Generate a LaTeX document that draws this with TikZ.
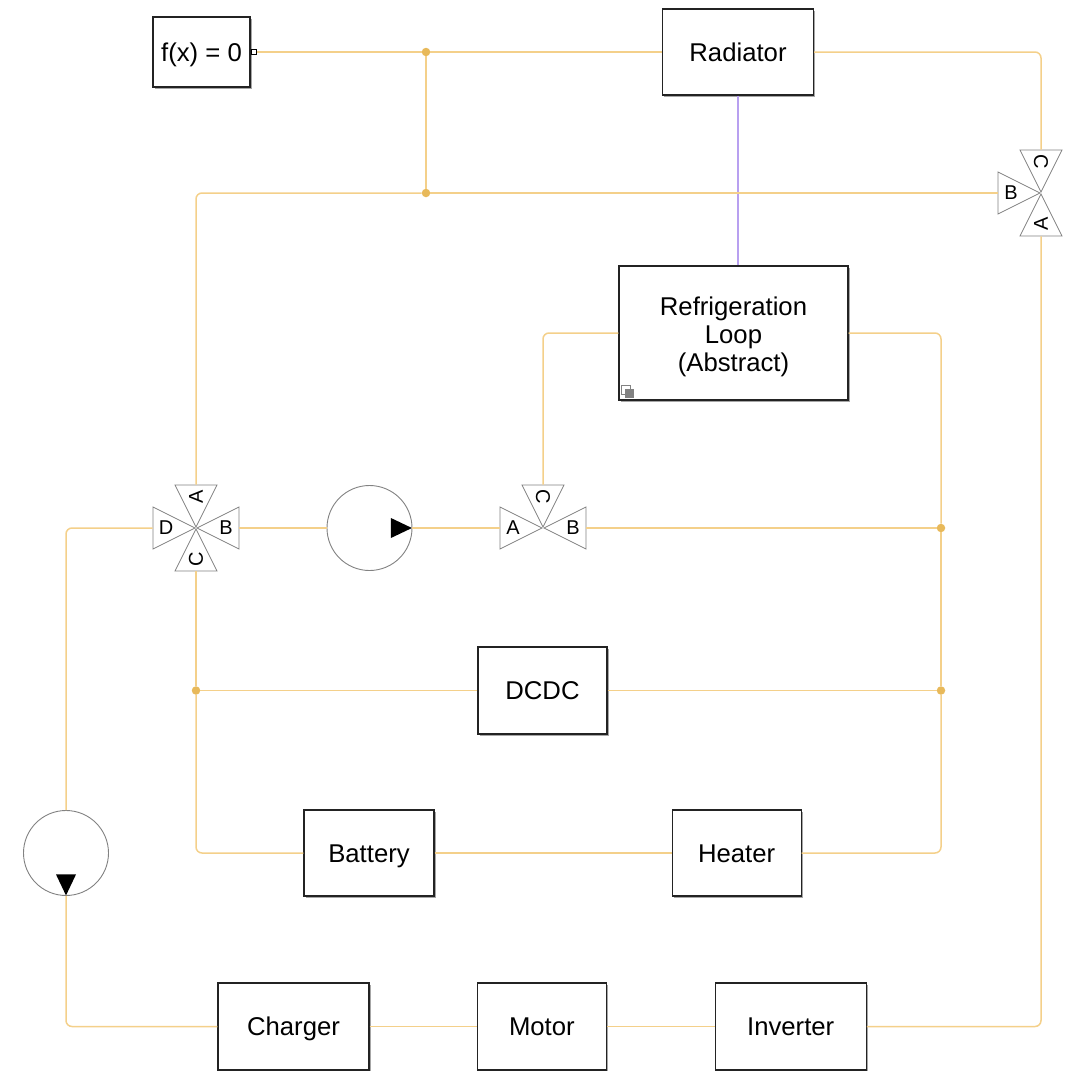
\documentclass[tikz,border=0pt]{standalone}
\usepackage{fontspec}
\setmainfont{Liberation Sans}
\usetikzlibrary{shapes.geometric,positioning,calc,shadows}
\definecolor{wireorange}{RGB}{244,208,138}
\definecolor{dotorange}{RGB}{232,185,90}
\definecolor{wirepurple}{RGB}{184,160,240}
\definecolor{armgray}{RGB}{130,130,130}
\definecolor{boxdark}{RGB}{35,35,35}

\begin{document}
\begin{tikzpicture}[
  x=1pt,y=-1pt,
  box/.style={draw=boxdark,line width=1.1pt,fill=white,inner sep=0pt,align=center,
              font=\fontsize{25.7}{28}\selectfont,execute at begin node={\rule[-6pt]{0pt}{30pt}},
              drop shadow={shadow xshift=1.6pt,shadow yshift=-1.6pt,opacity=.35,fill=black}},
  arm/.style={isosceles triangle,isosceles triangle stretches,draw=armgray,line width=.8pt,fill=white,
              minimum width=42pt,minimum height=42pt,inner sep=0pt,anchor=apex},
  lbl/.style={font=\fontsize{20}{22}\selectfont,inner sep=0pt},
  pump/.style={circle,draw=armgray,line width=.9pt,fill=white,minimum size=85pt,inner sep=0pt},
  tip/.style={isosceles triangle,isosceles triangle stretches,fill=black,
              minimum width=20pt,minimum height=21pt,inner sep=0pt,anchor=apex},
  dot/.style={circle,fill=dotorange,minimum size=8.5pt,inner sep=0pt},
  wire/.style={draw=wireorange,line width=1.5pt,rounded corners=6pt},
  link/.style={draw=wirepurple,line width=1.5pt}]

  \useasboundingbox (0,0) rectangle (1071,1071);

  % blocks
  \node[box,minimum width=97pt,minimum height=70pt] (solver) at (201.5,52) {f(x) = 0};
  \node[box,minimum width=151pt,minimum height=86pt] (radiator) at (738,52) {Radiator};
  \node[box,minimum width=229pt,minimum height=134pt] (refrig) at (733.5,333) {};
  \node[align=center,inner sep=0pt,font=\fontsize{25.7}{28}\selectfont] (refrigtext) at (733.5,336.5) {Refrigeration\\Loop\\(Abstract)};
  \node[box,minimum width=129pt,minimum height=87pt] (dcdc) at (542.5,690.5) {DCDC};
  \node[box,minimum width=130pt,minimum height=86pt] (battery) at (369,853) {Battery};
  \node[box,minimum width=129pt,minimum height=86pt,right=237pt of battery] (heater) {Heater};
  \node[box,minimum width=151pt,minimum height=87pt] (charger) at (293.5,1026.5) {Charger};
  \node[box,minimum width=129.5pt,minimum height=87pt,right=107pt of charger] (motor) {Motor};
  \node[box,minimum width=151pt,minimum height=87pt,right=107.5pt of motor] (inverter) {Inverter};

  \node[draw=black,line width=.8pt,fill=white,minimum size=5pt,inner sep=0pt] (port) at (254,52) {};
  \node[draw=armgray,line width=.8pt,minimum size=9pt,inner sep=0pt] (badgea) at (626,390) {};
  \node[fill=armgray,minimum size=9pt,inner sep=0pt] (badgeb) at (629.5,393.5) {};

  % four way valve
  \coordinate (vl) at (196,528);
  \node[arm,rotate=-90] (vlA) at (vl) {};
  \node[arm,rotate=180] (vlB) at (vl) {};
  \node[arm,rotate=90] (vlC) at (vl) {};
  \node[arm] (vlD) at (vl) {};
  \node[lbl,rotate=90] (vlAt) at ($(vl)!.72!(vlA.lower side)$) {A};
  \node[lbl] (vlBt) at ($(vl)!.69!(vlB.lower side)$) {B};
  \node[lbl,rotate=90] (vlCt) at ($(vl)!.72!(vlC.lower side)$) {C};
  \node[lbl] (vlDt) at ($(vl)!.69!(vlD.lower side)$) {D};

  % three way valves
  \coordinate (vm) at (543,528);
  \node[arm] (vmA) at (vm) {};
  \node[arm,rotate=180] (vmB) at (vm) {};
  \node[arm,rotate=-90] (vmC) at (vm) {};
  \node[lbl] (vmAt) at ($(vm)!.69!(vmA.lower side)$) {A};
  \node[lbl] (vmBt) at ($(vm)!.69!(vmB.lower side)$) {B};
  \node[lbl,rotate=-90] (vmCt) at ($(vm)!.72!(vmC.lower side)$) {C};

  \coordinate (vr) at (1041,193);
  \node[arm,rotate=90] (vrA) at (vr) {};
  \node[arm] (vrB) at (vr) {};
  \node[arm,rotate=-90] (vrC) at (vr) {};
  \node[lbl,rotate=90] (vrAt) at ($(vr)!.72!(vrA.lower side)$) {A};
  \node[lbl] (vrBt) at ($(vr)!.69!(vrB.lower side)$) {B};
  \node[lbl,rotate=-90] (vrCt) at ($(vr)!.72!(vrC.lower side)$) {C};

  % pumps
  \node[pump] (pumpa) at (369.5,528) {};
  \node[tip] (tipa) at (pumpa.east) {};
  \node[pump] (pumpb) at (66,853) {};
  \node[tip,rotate=-90] (tipb) at (pumpb.south) {};

  % junctions
  \node[dot] (ja) at (426,52) {};
  \node[dot] (jb) at (426,193) {};
  \node[dot] (jc) at (941,528) {};
  \node[dot] (jd) at (941,690.5) {};
  \node[dot] (je) at (196,690.5) {};

  \draw[link] (radiator.south) -- (radiator.south |- refrig.north);

  \draw[wire] (port.east) -- (ja);
  \draw[wire] (ja) -- (radiator);
  \draw[wire] (ja) -- (jb);
  \draw[wire] (radiator) -| (vrC.lower side);
  \draw[wire] (vrB.lower side) -- (jb);
  \draw[wire] (jb) -| (vlA.lower side);
  \draw[wire] (refrig.west) -| (vmC.lower side);
  \draw[wire] (refrig.east) -| (jc);
  \draw[wire] (jc) -- (jd);
  \draw[wire] (jd) |- (heater);
  \draw[wire] (vmB.lower side) -- (jc);
  \draw[wire] (dcdc) -- (jd);
  \draw[wire] (dcdc) -- (je);
  \draw[wire] (vlC.lower side) -- (je);
  \draw[wire] (je) |- (battery);
  \draw[wire] (battery) -- (heater);
  \draw[wire] (vlB.lower side) -- (pumpa);
  \draw[wire] (pumpa) -- (vmA.lower side);
  \draw[wire] (vlD.lower side) -| (pumpb);
  \draw[wire] (pumpb) |- (charger);
  \draw[wire] (charger) -- (motor);
  \draw[wire] (motor) -- (inverter);
  \draw[wire] (inverter) -| (vrA.lower side);
\end{tikzpicture}
\end{document}
